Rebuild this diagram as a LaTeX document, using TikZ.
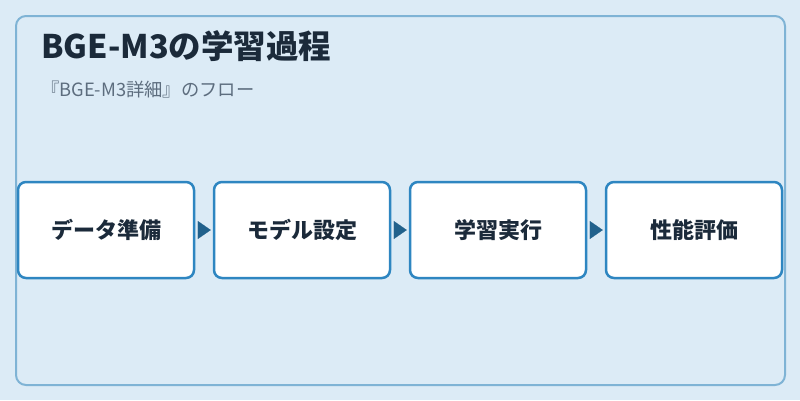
\documentclass[tikz,border=0pt]{standalone}
\usepackage{fontspec}
\setmainfont{Noto Sans CJK JP}
\usetikzlibrary{arrows.meta}
\definecolor{bgc}{HTML}{DCEBF6}
\definecolor{framec}{HTML}{7FB3D5}
\definecolor{boxc}{HTML}{2E86C1}
\definecolor{arrc}{HTML}{21618C}
\definecolor{titc}{HTML}{1B2A3A}
\definecolor{subc}{HTML}{5D6D7E}
\tikzset{
  stepbox/.style={draw=boxc, fill=white, line width=2.5pt, rounded corners=8pt,
    minimum width=176pt, minimum height=96pt, inner sep=0pt,
    font=\fontsize{22}{26}\selectfont\bfseries, text=titc},
  flowarrow/.style={line width=0.1pt, draw=arrc, shorten <=3pt, shorten >=2pt,
    -{Triangle[length=13pt,width=18pt]}, arrc},
}
\begin{document}
\begin{tikzpicture}[x=1pt,y=1pt]
\fill[bgc] (0,0) rectangle (800,-400);
\useasboundingbox (0,0) rectangle (800,-400);
\draw[framec, line width=2pt, rounded corners=10pt] (16,-16) rectangle (785,-385);
\node[anchor=base west, inner sep=0pt, text=titc, font=\fontsize{32.5}{38}\selectfont\bfseries] (title) at (41,-58) {BGE-M3の学習過程};
\node[anchor=base west, inner sep=0pt, text=subc, font=\fontsize{18.3}{22}\selectfont] (sub) at (41,-96) {『BGE-M3詳細』のフロー};
\node[stepbox] (b1) at (106,-230) {データ準備};
\node[stepbox] (b2) at (302,-230) {モデル設定};
\node[stepbox] (b3) at (498,-230) {学習実行};
\node[stepbox] (b4) at (694,-230) {性能評価};
\draw[flowarrow] (b1.east) -- (b2.west);
\draw[flowarrow] (b2.east) -- (b3.west);
\draw[flowarrow] (b3.east) -- (b4.west);
\end{tikzpicture}
\end{document}
